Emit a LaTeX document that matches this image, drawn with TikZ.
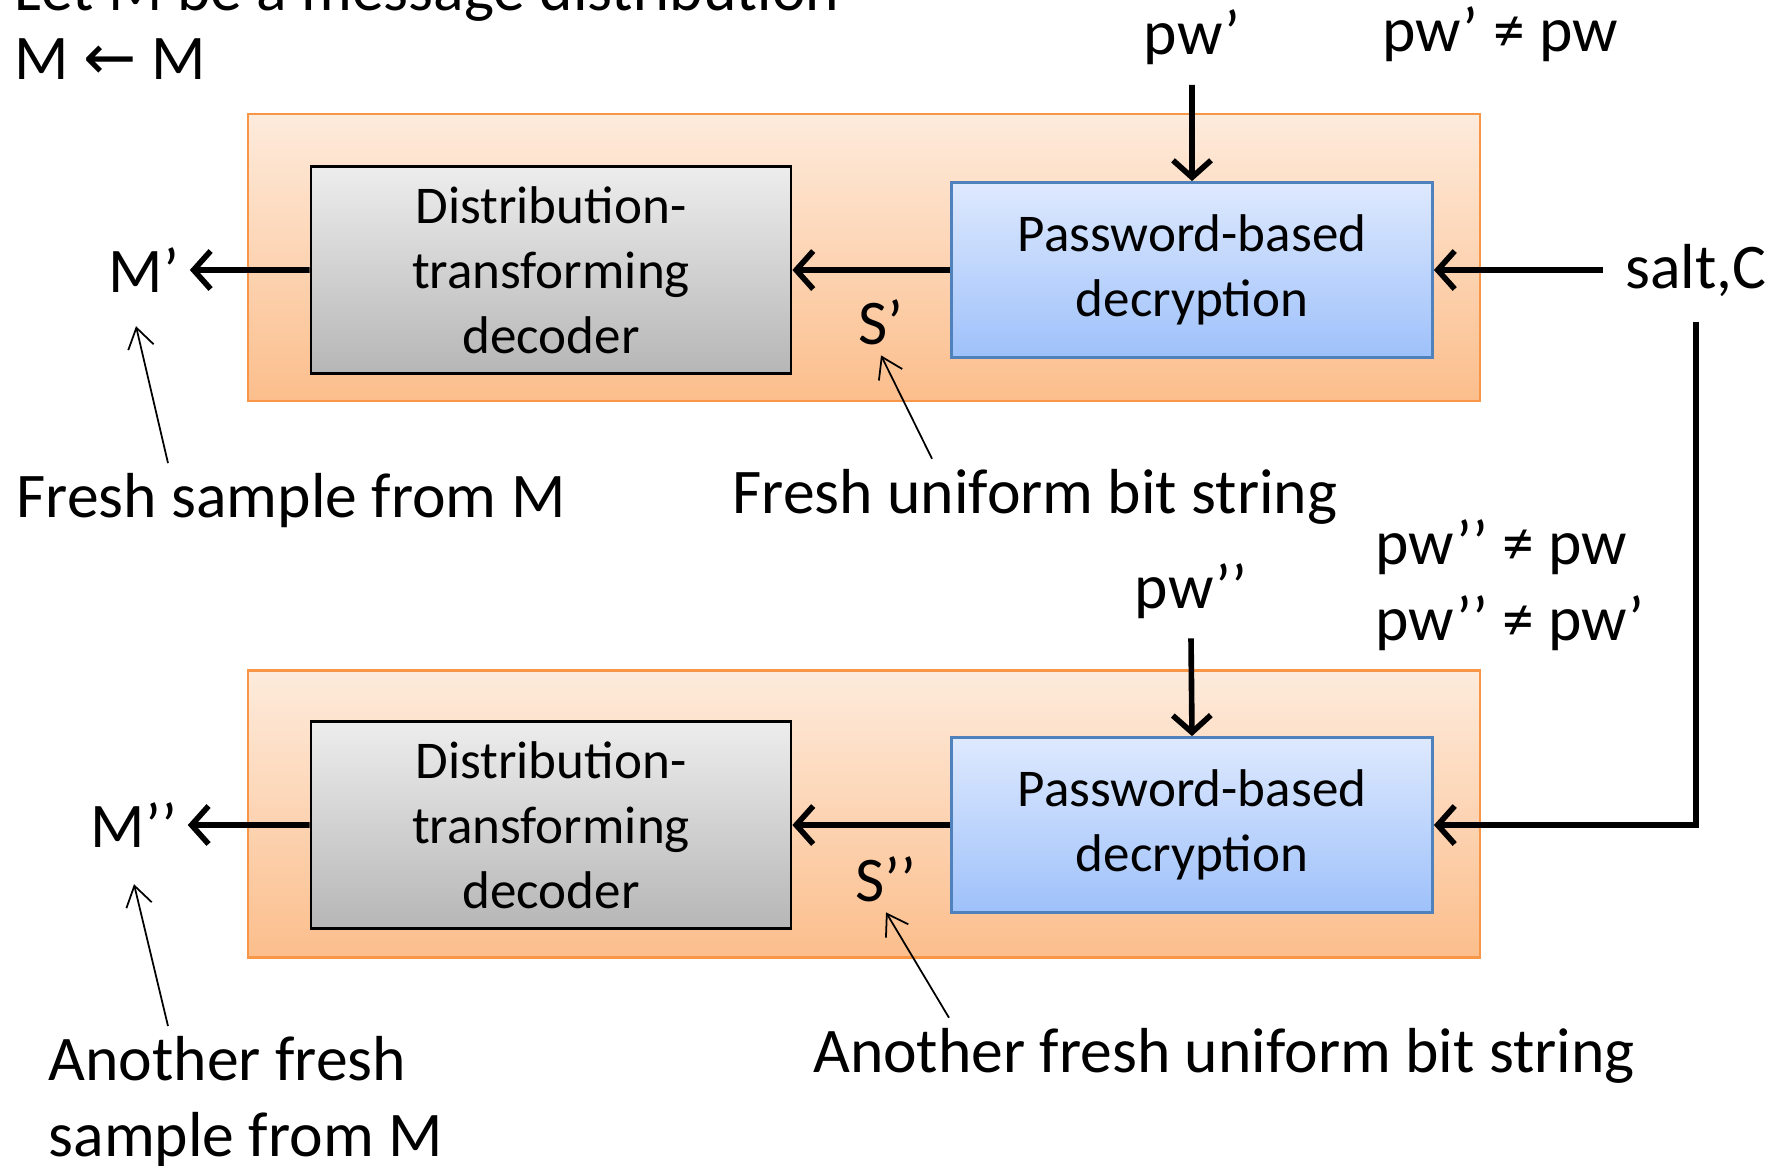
\documentclass[tikz,border=0pt]{standalone}
\usepackage{fontspec}
\setmainfont{Carlito}
\newfontfamily\arrowfont{DejaVu Sans}
\usetikzlibrary{positioning,arrows.meta}
\definecolor{frameline}{RGB}{247,150,70}
\definecolor{frametop}{RGB}{253,235,220}
\definecolor{framebot}{RGB}{252,190,140}
\definecolor{graytop}{RGB}{237,237,237}
\definecolor{graybot}{RGB}{182,182,182}
\definecolor{bluetop}{RGB}{222,233,254}
\definecolor{bluebot}{RGB}{158,193,250}
\definecolor{blueline}{RGB}{79,129,189}

\begin{document}
\begin{tikzpicture}
[every node/.style={font=\fontsize{18.1}{21.5}\selectfont,inner sep=1mm},
 frame/.style={draw=frameline,line width=0.8pt,top color=frametop,bottom color=framebot,minimum width=12.32cm,minimum height=2.87cm,inner sep=0mm},
 dec/.style={draw=black,line width=0.8pt,top color=graytop,bottom color=graybot,minimum width=4.8cm,minimum height=2.07cm,align=center,font=\fontsize{15.1}{18.5}\selectfont},
 pbd/.style={draw=blueline,line width=0.8pt,top color=bluetop,bottom color=bluebot,minimum width=4.81cm,minimum height=1.75cm,align=center,font=\fontsize{15.1}{18.5}\selectfont},
 flow/.style={line width=1.6pt,-{Straight Barb[length=1.7mm,width=3.8mm]}},
 pointer/.style={line width=0.5pt,-{Straight Barb[length=2mm,width=2.6mm]}}]
\useasboundingbox (0,0) rectangle (17.82,-11.65);
\node[anchor=base west] (intro) at (0.04,-0.1)  {Let M be a message distribution};
\node[anchor=west]      (draw0) at (0.04,-0.59) {M {\arrowfont ←} M};
\node[frame] (frame1) at (8.64,-2.575) {};
\node[dec]   (dec1)   [on grid,below left=1.25mm and 3.13cm of frame1] {Distribution-\\transforming\\decoder};
\node[pbd]   (pbd1)   [on grid,right=6.41cm of dec1]                   {Password-based\\decryption};
\node (Mp)    at (1.44,-2.70)  {M’};
\node (Sp)    at (8.81,-3.22)  {S’};
\node (pw1)   at (11.92,-0.375) {pw’};
\node (neq1)  at (15.0,-0.34)  {pw’ ≠ pw};
\node[inner xsep=2.2mm,inner ysep=2.5mm] (salt) at (16.96,-2.70) {salt,C};
\node[anchor=west] (note1) at (0.06,-5.01) {Fresh sample from M};
\node (note2) at (10.35,-4.97) {Fresh uniform bit string};
\node (pw2)   at (11.91,-5.91) {pw’’};
\node[anchor=west,align=left] (neq2) at (13.65,-5.85) {pw’’ ≠ pw\\pw’’ ≠ pw’};
\node[frame] (frame2) at (8.64,-8.14) {};
\node[dec]   (dec2)   [on grid,below left=1.1mm and 3.13cm of frame2] {Distribution-\\transforming\\decoder};
\node[pbd]   (pbd2)   [on grid,right=6.41cm of dec2]                  {Password-based\\decryption};
\node (Mpp)   at (1.34,-8.25)  {M’’};
\node (Spp)   at (8.86,-8.79)  {S’’};
\node[anchor=north west,align=left] (note3) at (0.38,-10.26) {Another fresh\\sample from M};
\node (note4) at (12.24,-10.56) {Another fresh uniform bit string};
\draw[flow] ([yshift=-0.9mm]pw1.south) -- (pbd1.north);
\draw[flow] (salt) -- (pbd1);
\draw[flow] (pbd1) -- (dec1);
\draw[flow] (dec1) -- (Mp);
\draw[flow] ([yshift=-0.9mm]pw2.south) -- (pbd2.north);
\draw[flow] (salt.south) |- (pbd2.east);
\draw[flow] (pbd2) -- (dec2);
\draw[flow] (dec2) -- (Mpp);
\draw[pointer] ([xshift=16.2mm]note1.north west) -- ([xshift=-0.8mm,yshift=-2.3mm]Mp.south);
\draw[pointer] ([xshift=-10.3mm]note2.north)     -- (Sp.south);
\draw[pointer] ([xshift=13mm]note3.north west)   -- ([yshift=-2.6mm]Mpp.south);
\draw[pointer] ([xshift=-27.5mm]note4.north)     -- (Spp.south);
\end{tikzpicture}
\end{document}
